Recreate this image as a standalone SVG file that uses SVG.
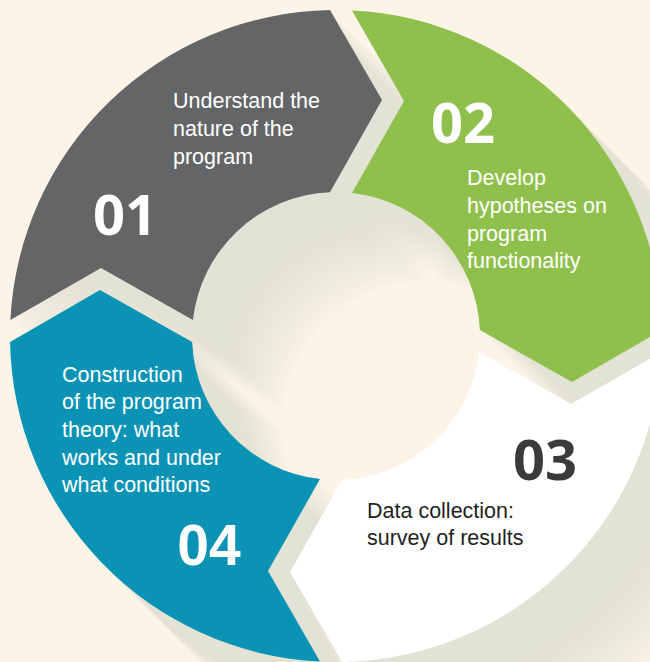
<svg xmlns="http://www.w3.org/2000/svg" xmlns:xlink="http://www.w3.org/1999/xlink" width="650" height="662" viewBox="0 0 650 662">
  <style>
    .label { font-family: "Liberation Sans", Arial, sans-serif; font-size: 21.5px; }
    .light { fill: #ffffff; }
    .dark { fill: #1f1f1f; }
    .num { font-family: "Open Sans", "Liberation Sans", sans-serif; font-weight: 700; font-size: 56px; text-anchor: middle; }
    .num-alt { font-family: "Liberation Sans", Arial, sans-serif; font-weight: 700; font-size: 57px; text-anchor: middle; }
  </style>
  <defs>
    <!-- Ring of four chevron segments around centre (336,336), radii 144..326 -->
    <path id="seg01" d="M 10.4 320 A 326 326 0 0 1 330 10.06 L 382 100 L 330 192.13 A 144 144 0 0 0 192.9 320 L 101 268 Z"/>
    <path id="seg02" d="M 352 10.4 A 326 326 0 0 1 661.94 330 L 572 382 L 479.87 330 A 144 144 0 0 0 352 192.9 L 404 101 Z"/>
    <path id="seg03" d="M 661.6 352 A 326 326 0 0 1 342 661.94 L 290 572 L 342 479.87 A 144 144 0 0 0 479.1 352 L 571 404 Z"/>
    <path id="seg04" d="M 320 661.6 A 326 326 0 0 1 10.06 342 L 100 290 L 192.13 342 A 144 144 0 0 0 320 479.1 L 268 571 Z"/>
    <g id="ring">
      <use xlink:href="#seg01"/>
      <use xlink:href="#seg02"/>
      <use xlink:href="#seg03"/>
      <use xlink:href="#seg04"/>
    </g>
  </defs>

  <rect width="650" height="662" fill="#fcf4e7"/>

  <!-- Long diagonal shadow: stacked translucent copies of the ring -->
  <g id="shadow" fill="#e3ddd2" fill-opacity="0.07">
    <use xlink:href="#ring" transform="translate(3,3)"/>
    <use xlink:href="#ring" transform="translate(6,6)"/>
    <use xlink:href="#ring" transform="translate(9,9)"/>
    <use xlink:href="#ring" transform="translate(12,12)"/>
    <use xlink:href="#ring" transform="translate(15,15)"/>
    <use xlink:href="#ring" transform="translate(18,18)"/>
    <use xlink:href="#ring" transform="translate(21,21)"/>
    <use xlink:href="#ring" transform="translate(24,24)"/>
    <use xlink:href="#ring" transform="translate(27,27)"/>
    <use xlink:href="#ring" transform="translate(30,30)"/>
    <use xlink:href="#ring" transform="translate(33,33)"/>
    <use xlink:href="#ring" transform="translate(36,36)"/>
    <use xlink:href="#ring" transform="translate(39,39)"/>
    <use xlink:href="#ring" transform="translate(42,42)"/>
    <use xlink:href="#ring" transform="translate(45,45)"/>
    <use xlink:href="#ring" transform="translate(48,48)"/>
    <use xlink:href="#ring" transform="translate(51,51)"/>
    <use xlink:href="#ring" transform="translate(54,54)"/>
    <use xlink:href="#ring" transform="translate(57,57)"/>
    <use xlink:href="#ring" transform="translate(60,60)"/>
    <use xlink:href="#ring" transform="translate(63,63)"/>
    <use xlink:href="#ring" transform="translate(66,66)"/>
    <use xlink:href="#ring" transform="translate(69,69)"/>
    <use xlink:href="#ring" transform="translate(72,72)"/>
    <use xlink:href="#ring" transform="translate(75,75)"/>
    <use xlink:href="#ring" transform="translate(78,78)"/>
    <use xlink:href="#ring" transform="translate(81,81)"/>
    <use xlink:href="#ring" transform="translate(84,84)"/>
    <use xlink:href="#ring" transform="translate(87,87)"/>
    <use xlink:href="#ring" transform="translate(90,90)"/>
  </g>

  <g id="step-01">
    <use xlink:href="#seg01" fill="#646567"/>
    <text class="label light" x="173" y="108">Understand the</text>
    <text class="label light" x="173" y="136">nature of the</text>
    <text class="label light" x="173" y="164">program</text>
    <text class="num light" x="125" y="235">01</text>
  </g>

  <g id="step-02">
    <use xlink:href="#seg02" fill="#8fc04c"/>
    <text class="num light" x="463" y="143">02</text>
    <text class="label light" x="467" y="185">Develop</text>
    <text class="label light" x="467" y="213">hypotheses on</text>
    <text class="label light" x="467" y="241">program</text>
    <text class="label light" x="467" y="268">functionality</text>
  </g>

  <g id="step-03">
    <use xlink:href="#seg03" fill="#ffffff"/>
    <text class="num" x="545" y="480" fill="#3b3b3b">03</text>
    <text class="label dark" x="367" y="518">Data collection:</text>
    <text class="label dark" x="367" y="545">survey of results</text>
  </g>

  <g id="step-04">
    <use xlink:href="#seg04" fill="#0a93b5"/>
    <text class="label light" x="62" y="382">Construction</text>
    <text class="label light" x="62" y="409">of the program</text>
    <text class="label light" x="62" y="437">theory: what</text>
    <text class="label light" x="62" y="465">works and under</text>
    <text class="label light" x="62" y="492">what conditions</text>
    <text class="num-alt light" x="209" y="565">04</text>
  </g>
</svg>
